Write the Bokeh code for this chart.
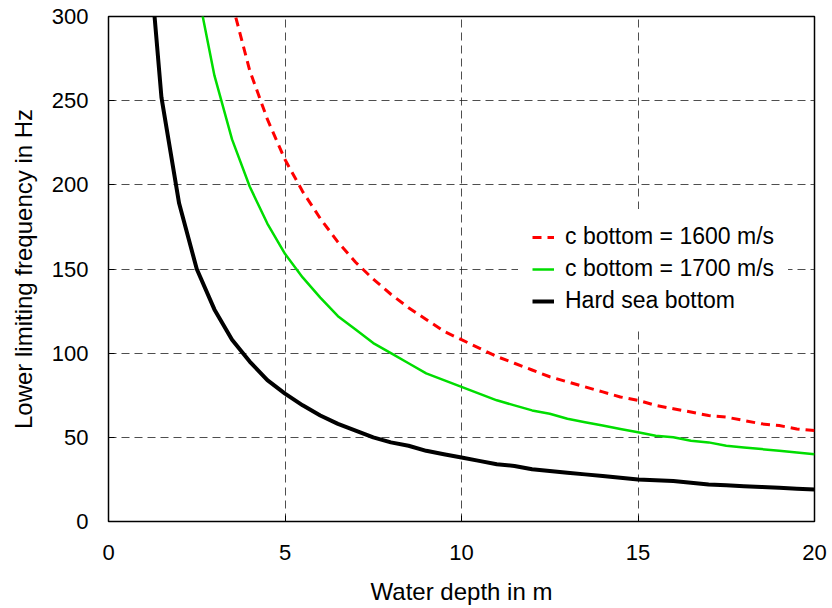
from bokeh.plotting import figure
from bokeh.models import Range1d, FixedTicker, Legend, LegendItem
from bokeh.embed import file_html
from bokeh.resources import INLINE

# Data
depth_hard = [1.0, 1.5, 2.0, 2.5, 3.0, 3.5, 4.0, 4.5, 5.0, 5.5, 6.0, 6.5, 7.0, 7.5, 8.0, 8.5,
              9.0, 9.5, 10.0, 10.5, 11.0, 11.5, 12.0, 12.5, 13.0, 13.5, 14.0, 14.5, 15.0,
              15.5, 16.0, 16.5, 17.0, 17.5, 18.0, 18.5, 19.0, 19.5, 20.0]
freq_hard = [375, 252, 189, 150, 126, 108, 95, 84, 76, 69, 63, 58, 54, 50, 47, 45,
             42, 40, 38, 36, 34, 33, 31, 30, 29, 28, 27, 26, 25,
             24.5, 24, 23, 22, 21.5, 21, 20.5, 20, 19.5, 19]

depth_1700 = [2.5, 3.0, 3.5, 4.0, 4.5, 5.0, 5.5, 6.0, 6.5, 7.0, 7.5, 8.0, 8.5, 9.0, 9.5,
              10.0, 10.5, 11.0, 11.5, 12.0, 12.5, 13.0, 13.5, 14.0, 14.5, 15.0, 15.5,
              16.0, 16.5, 17.0, 17.5, 18.0, 18.5, 19.0, 19.5, 20.0]
freq_1700 = [318, 265, 227, 199, 177, 159, 145, 133, 122, 114, 106, 100, 94, 88, 84,
             80, 76, 72, 69, 66, 64, 61, 59, 57, 55, 53, 51,
             50, 48, 47, 45, 44, 43, 42, 41, 40]

depth_1600 = [3.5, 4.0, 4.5, 5.0, 5.5, 6.0, 6.5, 7.0, 7.5, 8.0, 8.5, 9.0, 9.5,
              10.0, 10.5, 11.0, 11.5, 12.0, 12.5, 13.0, 13.5, 14.0, 14.5, 15.0, 15.5,
              16.0, 16.5, 17.0, 17.5, 18.0, 18.5, 19.0, 19.5, 20.0]
freq_1600 = [308, 268, 239, 215, 196, 180, 166, 154, 144, 135, 127, 120, 113,
             108, 103, 98, 94, 90, 86, 83, 80, 77, 74, 72, 69,
             67, 65, 63, 62, 60, 58, 57, 55, 54]

x_ticks = [0, 5, 10, 15, 20]
y_ticks = [0, 50, 100, 150, 200, 250, 300]

label_1600 = "c bottom = 1600 m/s"
label_1700 = "c bottom = 1700 m/s"
label_hard = "Hard sea bottom"

FONT = "Liberation Sans"

p = figure(width=832, height=608, output_backend="svg", toolbar_location=None,
           x_range=Range1d(0, 20), y_range=Range1d(0, 300),
           min_border_left=108, min_border_right=18, min_border_top=16, min_border_bottom=87)
p.frame_width = 706
p.frame_height = 505

p.outline_line_color = "black"
p.outline_line_width = 1.5
p.background_fill_color = "white"
p.border_fill_color = "white"

for ax in (p.xaxis, p.yaxis):
    ax.axis_line_color = None
    ax.major_tick_in = 6
    ax.major_tick_out = 0
    ax.major_tick_line_color = "black"
    ax.minor_tick_line_color = None
    ax.major_label_text_font = FONT
    ax.major_label_text_font_size = "22px"
    ax.major_label_text_color = "black"
    ax.axis_label_text_font = FONT
    ax.axis_label_text_font_size = "24px"
    ax.axis_label_text_font_style = "normal"
    ax.axis_label_text_color = "black"

p.xaxis.ticker = FixedTicker(ticks=x_ticks)
p.yaxis.ticker = FixedTicker(ticks=y_ticks)
p.xaxis.axis_label = "Water depth in m"
p.yaxis.axis_label = "Lower limiting frequency in Hz"
p.xaxis.major_label_standoff = 23
p.xaxis.axis_label_standoff = 15
p.yaxis.major_label_standoff = 20
p.yaxis.axis_label_standoff = 12

for g in (p.xgrid, p.ygrid):
    g.grid_line_color = "#222222"
    g.grid_line_alpha = 0.8
    g.grid_line_width = 1
    g.grid_line_dash = "8 5"
p.xgrid.ticker = FixedTicker(ticks=x_ticks)
p.ygrid.ticker = FixedTicker(ticks=y_ticks)

r1600 = p.line(depth_1600, freq_1600, line_color="#ff0000", line_width=3, line_dash="9 6")
r1700 = p.line(depth_1700, freq_1700, line_color="#00dd00", line_width=2.5)
rhard = p.line(depth_hard, freq_hard, line_color="black", line_width=4)

legend = Legend(items=[LegendItem(label=label_1600, renderers=[r1600]),
                       LegendItem(label=label_1700, renderers=[r1700]),
                       LegendItem(label=label_hard, renderers=[rhard])],
                location=(410, 193))
legend.label_text_font = FONT
legend.label_text_font_size = "23px"
legend.label_text_color = "black"
legend.glyph_width = 22
legend.glyph_height = 24
legend.label_height = 24
legend.label_standoff = 11
legend.spacing = 5
legend.padding = 14
legend.margin = 0
legend.border_line_alpha = 0
legend.background_fill_color = "white"
legend.background_fill_alpha = 1
p.add_layout(legend, "center")

open("out.html", "w").write(file_html(p, INLINE))
